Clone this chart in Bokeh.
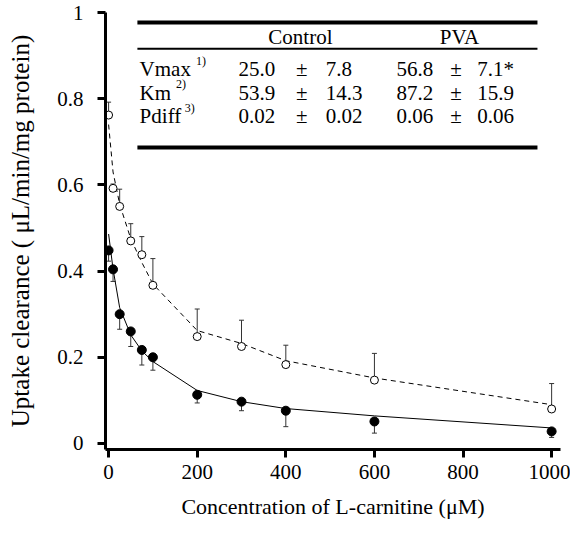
from bokeh.plotting import figure
from bokeh.models import ColumnDataSource, Range1d, FixedTicker, Whisker, TeeHead
from bokeh.core.properties import value
from bokeh.embed import file_html
from bokeh.resources import INLINE

# ---- data ----
conc = [0, 10, 25, 50, 75, 100, 200, 300, 400, 600, 1000]
control = [0.448, 0.404, 0.300, 0.260, 0.217, 0.200, 0.113, 0.097, 0.076, 0.051, 0.028]
control_err = [0.025, 0.028, 0.035, 0.035, 0.035, 0.030, 0.019, 0.021, 0.037, 0.027, 0.014]
pva = [0.762, 0.592, 0.550, 0.470, 0.438, 0.367, 0.248, 0.225, 0.183, 0.147, 0.080]
pva_err = [0.030, 0.010, 0.040, 0.040, 0.042, 0.062, 0.064, 0.061, 0.045, 0.062, 0.059]
control_fit = [0.486, 0.405, 0.315, 0.252, 0.215, 0.190, 0.123, 0.097, 0.081, 0.064, 0.036]
pva_fit = [0.740, 0.630, 0.555, 0.475, 0.420, 0.370, 0.262, 0.232, 0.192, 0.152, 0.090]

x_ticks = [0, 200, 400, 600, 800, 1000]
y_ticks = [0, 0.2, 0.4, 0.6, 0.8, 1]
y_tick_labels = ["0", "0.2", "0.4", "0.6", "0.8", "1"]

row_names = ["Vmax", "Km", "Pdiff"]
row_notes = ["1)", "2)", "3)"]
control_mean = ["25.0", "53.9", "0.02"]
control_sd = ["7.8", "14.3", "0.02"]
pva_mean = ["56.8", "87.2", "0.06"]
pva_sd = ["7.1*", "15.9", "0.06"]
col_heads = ["Control", "PVA"]

FONT = value("Liberation Serif")

p = figure(width=570, height=527, output_backend="svg", toolbar_location=None,
           x_range=Range1d(-7, 1020), y_range=Range1d(-0.014, 1.0),
           min_border_left=105, min_border_right=10, min_border_top=12,
           min_border_bottom=78)
p.outline_line_color = None
p.grid.visible = False
p.background_fill_color = "white"
p.border_fill_color = "white"

for ax in (p.xaxis[0], p.yaxis[0]):
    ax.axis_line_width = 3
    ax.axis_line_color = "black"
    ax.major_tick_line_width = 3
    ax.major_tick_line_color = "black"
    ax.major_tick_out = 8
    ax.major_tick_in = 0
    ax.minor_tick_line_color = None
    ax.major_label_text_font = "Liberation Serif"
    ax.major_label_text_font_size = "21px"
    ax.major_label_text_color = "black"
    ax.axis_label_text_font = "Liberation Serif"
    ax.axis_label_text_font_style = "normal"
    ax.axis_label_text_color = "black"

p.xaxis.ticker = FixedTicker(ticks=x_ticks)
p.yaxis.ticker = FixedTicker(ticks=y_ticks)
p.yaxis.major_label_overrides = {t: l for t, l in zip(y_ticks, y_tick_labels)}
p.xaxis.major_label_standoff = 7
p.yaxis.major_label_standoff = 14
p.xaxis.axis_label = "Concentration of L-carnitine (\u03bcM)"
p.yaxis.axis_label = "Uptake clearance ( \u03bcL/min/mg protein)"
p.xaxis.axis_label_text_font_size = "22px"
p.yaxis.axis_label_text_font_size = "25px"
p.xaxis.axis_label_standoff = 12
p.yaxis.axis_label_standoff = 20

src = ColumnDataSource(dict(
    x=conc, c=control, c_lo=[v - e for v, e in zip(control, control_err)],
    v=pva, v_hi=[v + e for v, e in zip(pva, pva_err)],
    cf=control_fit, vf=pva_fit))

# fitted lines
p.line("x", "vf", source=src, line_color="black", line_width=1, line_dash="5 4")
p.line("x", "cf", source=src, line_color="black", line_width=1)

# error bars
p.add_layout(Whisker(base="x", upper="v_hi", lower="v", source=src,
                     line_color="#333333", line_width=1,
                     upper_head=TeeHead(size=5, line_color="#333333", line_width=1),
                     lower_head=None))
p.add_layout(Whisker(base="x", upper="c", lower="c_lo", source=src,
                     line_color="#333333", line_width=1,
                     lower_head=TeeHead(size=5, line_color="#333333", line_width=1),
                     upper_head=None))

# markers
p.scatter("x", "v", source=src, size=8, fill_color="white", line_color="black", line_width=1)
p.scatter("x", "c", source=src, size=9, fill_color="black", line_color="black")

# ---- inset table ----
tx0, tx1 = 65, 968
p.segment(x0=[tx0, tx0], y0=[0.977, 0.687], x1=[tx1, tx1], y1=[0.977, 0.687],
          line_color="black", line_width=4)
p.segment(x0=[tx0], y0=[0.916], x1=[tx1], y1=[0.916], line_color="black", line_width=2)

p.text(x=[433, 792], y=[0.944, 0.944], text=col_heads, text_font=FONT,
       text_font_size="21px", text_align="center", text_baseline="middle", text_color="black")

row_y = [0.868, 0.814, 0.759]
note_x = [197, 152, 172]
note_y = [0.888, 0.834, 0.779]
tsrc = ColumnDataSource(dict(y=row_y, name=row_names, note=row_notes, nx=note_x, ny=note_y,
                             cm=control_mean, cs=control_sd, pm=pva_mean, ps=pva_sd,
                             pm_sign=["\u00b1"] * len(row_y)))
common = dict(source=tsrc, text_font=FONT, text_font_size="21px",
              text_baseline="middle", text_color="black")
p.text(x=70, y="y", text="name", text_align="left", **common)
p.text(x="nx", y="ny", text="note", source=tsrc, text_font=FONT, text_font_size="12px",
       text_baseline="middle", text_align="left", text_color="black")
p.text(x=293, y="y", text="cm", text_align="left", **common)
p.text(x=436, y="y", text="pm_sign", text_align="center", **common)
p.text(x=490, y="y", text="cs", text_align="left", **common)
p.text(x=650, y="y", text="pm", text_align="left", **common)
p.text(x=784, y="y", text="pm_sign", text_align="center", **common)
p.text(x=832, y="y", text="ps", text_align="left", **common)

open("out.html", "w").write(file_html(p, INLINE))
